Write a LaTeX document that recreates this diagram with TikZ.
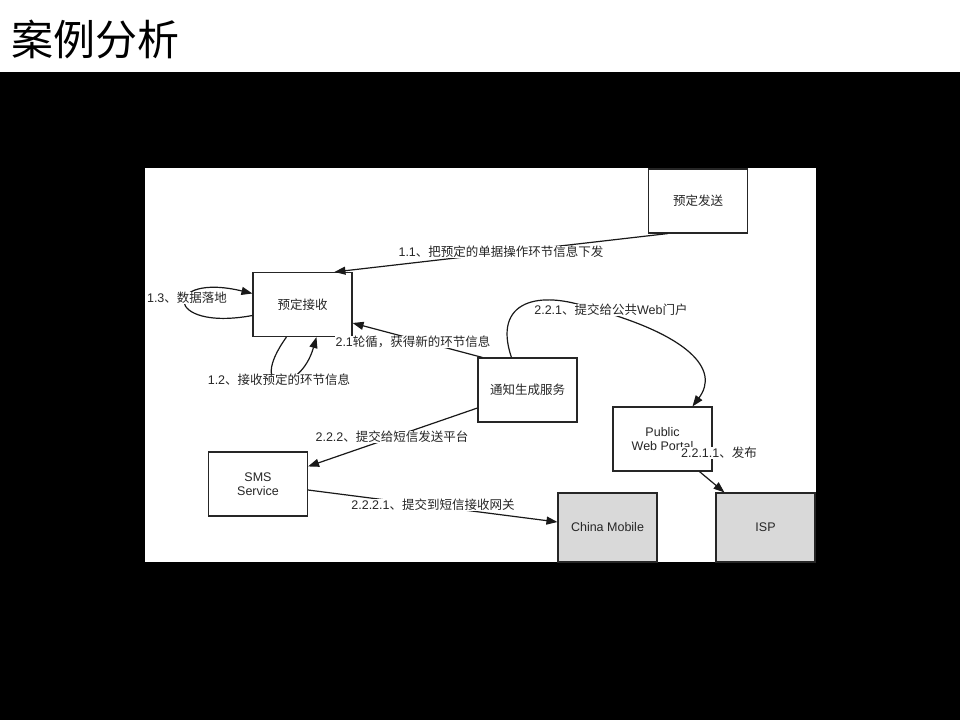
\documentclass[tikz,border=0pt]{standalone}
\usepackage{fontspec}
\setmainfont{Liberation Sans}
\newfontfamily\cjk{Noto Sans CJK SC}
\usetikzlibrary{arrows.meta}
\newcommand\zh[1]{{\cjk #1}}
\begin{document}
\begin{tikzpicture}[x=1pt,y=-1pt,
  box/.style={draw=black!85, line width=1.1pt, fill=white, inner sep=0pt,
    minimum width=99pt, minimum height=64pt, align=center,
    font=\fontsize{12.5}{14.5}\selectfont, text=black!85},
  graybox/.style={box, fill=black!15, minimum height=69pt},
  lbl/.style={fill=white, inner xsep=1pt, inner ysep=0.5pt,
    font=\fontsize{12.5}{14.5}\selectfont, text=black!85},
  arr/.style={line width=1.2pt, draw=black!90, -{Triangle[length=11pt,width=8pt]}},
]
\useasboundingbox (0,0) rectangle (960,720);
\fill[black] (0,72) rectangle (960,720);
\fill[white] (145,168) rectangle (816,562);
\node[anchor=west, inner sep=0pt, font=\cjk\fontsize{42}{46}\selectfont] (title) at (11,39) {案例分析};

% boxes
\node[box] (send) at (698,201) {\zh{预定发送}};
\node[box] (recv) at (302.5,304.5) {\zh{预定接收}};
\node[box] (notify) at (527.5,390) {\zh{通知生成服务}};
\node[box] (sms) at (258,484) {SMS\\Service};
\node[box] (portal) at (662.5,439) {Public\\Web Portal};
\node[graybox] (cm) at (607.5,527.5) {China Mobile};
\node[graybox] (isp) at (765.5,527.5) {ISP};

% connectors
\draw[arr] ([xshift=20pt]send.south west) -- ([xshift=82pt]recv.north west);
\draw[arr] ([yshift=-11pt]recv.west) .. controls (163,332) and (163,272) .. ([yshift=11pt]recv.west);
\draw[arr] ([xshift=34pt]recv.south west) .. controls (245,395) and (300,395) .. ([xshift=64pt]recv.south west);
\draw[arr] ([xshift=5pt]notify.north west) -- ([yshift=-18.5pt]recv.east);
\draw[arr] ([xshift=34pt]notify.north west) .. controls (492,300) and (540,290) .. (590,308)
  .. controls (690,335) and (720,370) .. ([xshift=80pt]portal.north west);
\draw[arr] ([yshift=-18pt]notify.west) -- ([yshift=-15pt]sms.north east);
\draw[arr] ([yshift=-6pt]sms.east) -- ([yshift=5.5pt]cm.west);
\draw[arr] ([xshift=87pt]portal.south west) -- ([xshift=9pt]isp.north west);

% labels
\node[lbl] (l11) at (501,252) {1.1\zh{、把预定的单据操作环节信息下发}};
\node[lbl] (l13) at (187,298) {1.3\zh{、数据落地}};
\node[lbl] (l12) at (279,380) {1.2\zh{、接收预定的环节信息}};
\node[lbl] (l21) at (413,342) {2.1\zh{轮循，获得新的环节信息}};
\node[lbl] (l221) at (611,310) {2.2.1\zh{、提交给公共}Web\zh{门户}};
\node[lbl] (l222) at (392,437) {2.2.2\zh{、提交给短信发送平台}};
\node[lbl] (l2221) at (433,505) {2.2.2.1\zh{、提交到短信接收网关}};
\node[lbl] (l2211) at (719,453) {2.2.1.1\zh{、发布}};
\end{tikzpicture}
\end{document}
